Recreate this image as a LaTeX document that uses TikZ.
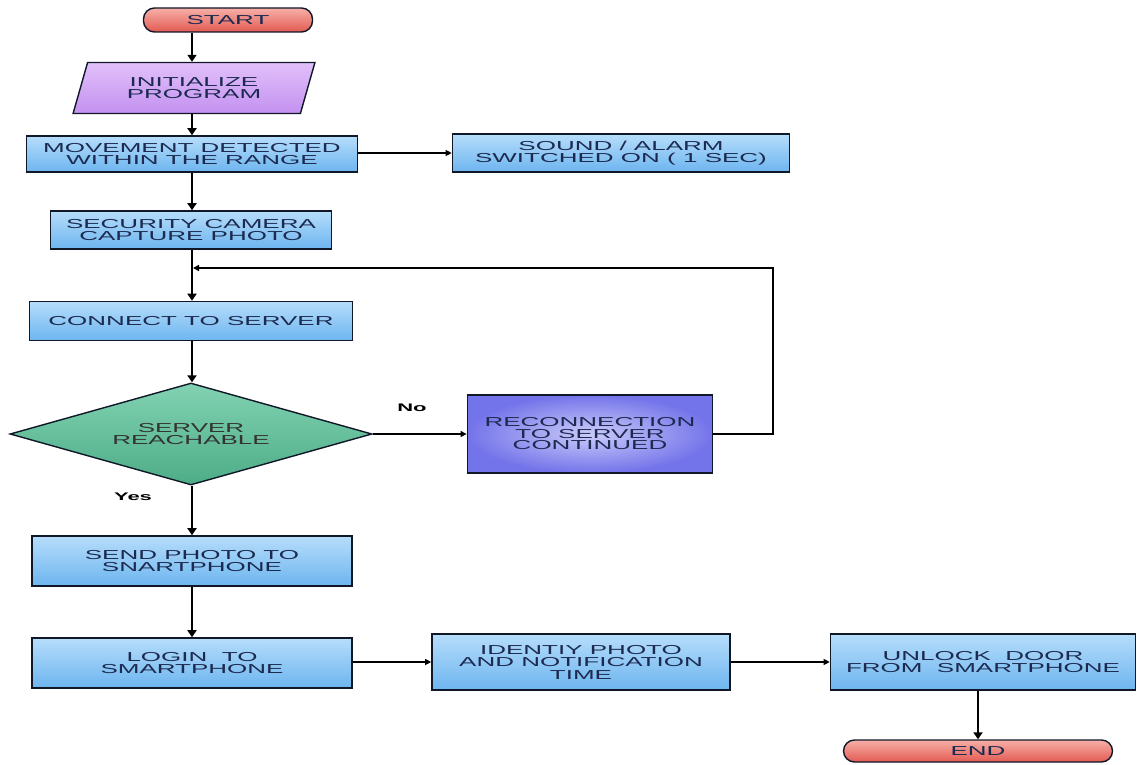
\documentclass[tikz,border=0pt]{standalone}
\usepackage{fontspec}
\setmainfont{Liberation Sans}[FakeStretch=2.0]
\usetikzlibrary{shapes.geometric,arrows.meta}
\definecolor{navy}{HTML}{1C2A50}
\definecolor{edge}{HTML}{101828}
\definecolor{bluetop}{HTML}{B6DDFB}
\definecolor{bluebot}{HTML}{6DB5EF}
\definecolor{purtop}{HTML}{E2C0FA}
\definecolor{purbot}{HTML}{C391F0}
\definecolor{grntop}{HTML}{82D2B2}
\definecolor{grnbot}{HTML}{4DAD87}
\definecolor{vtop}{HTML}{A8A8F7}
\definecolor{vbot}{HTML}{7474EA}
\definecolor{redtop}{HTML}{F7B0A8}
\definecolor{redbot}{HTML}{E25A52}
\begin{document}
\begin{tikzpicture}[x=1pt,y=-1pt,
  txt/.style={font=\fontsize{13}{12.5}\selectfont, text=navy, align=center, inner sep=0pt},
  box/.style={txt, rectangle, draw=edge, line width=1.6pt, top color=bluetop, bottom color=bluebot},
  pill/.style={txt, rectangle, rounded corners=11pt, draw=edge, line width=1.4pt, top color=redtop, bottom color=redbot},
  para/.style={txt, trapezium, trapezium left angle=67, trapezium right angle=113, trapezium stretches=true, draw=edge, line width=1.4pt, top color=purtop, bottom color=purbot},
  dia/.style={txt, diamond, aspect=3.55, draw=edge, line width=1.4pt, top color=grntop, bottom color=grnbot, text=black!80},
  vbox/.style={txt, rectangle, draw=edge, line width=1.8pt, inner color=vtop!60!white, outer color=vbot},
  thk/.style={line width=2.2pt, -{Triangle[width=9pt,length=7pt]}},
  thn/.style={line width=1.1pt, -{Triangle[width=6pt,length=6pt]}},
  lbl/.style={font=\bfseries\fontsize{11}{11}\selectfont, text=black, inner sep=0pt}
]
\useasboundingbox (0,0) rectangle (1140,765);
\fill[white] (0,0) rectangle (1140,765);
\coordinate (col) at (192,0);

\node[pill, minimum width=169pt, minimum height=24pt] (start) at (228,20) {START};
\node[para, minimum width=242pt, minimum height=51pt] (init) at (194,88) {INITIALIZE\\PROGRAM};
\node[box, minimum width=331pt, minimum height=36pt] (move) at (192,154) {MOVEMENT DETECTED\\WITHIN THE RANGE};
\node[box, minimum width=337pt, minimum height=38pt] (sound) at (621,153) {SOUND / ALARM\\SWITCHED ON ( 1 SEC)};
\node[box, minimum width=281pt, minimum height=38pt] (cam) at (191,230) {SECURITY CAMERA\\CAPTURE PHOTO};
\node[box, minimum width=323pt, minimum height=39pt] (conn) at (191,321) {CONNECT TO SERVER};
\node[dia, minimum width=362pt, minimum height=102pt] (dec) at (191,434) {SERVER\\REACHABLE};
\node[vbox, minimum width=245pt, minimum height=78pt, font=\fontsize{13}{11.5}\selectfont] (recon) at (590,434) {RECONNECTION\\TO SERVER\\CONTINUED};
\node[box, minimum width=320pt, minimum height=50pt] (send) at (192,561) {SEND PHOTO TO\\SNARTPHONE};
\node[box, minimum width=320pt, minimum height=50pt] (login) at (192,663) {LOGIN\ \ TO\\SMARTPHONE};
\node[box, minimum width=298pt, minimum height=56pt] (ident) at (581,662) {IDENTIY PHOTO\\AND NOTIFICATION\\TIME};
\node[box, minimum width=305pt, minimum height=56pt] (unlock) at (983,662) {UNLOCK\ \ DOOR\\FROM\ \ SMARTPHONE};
\node[pill, minimum width=269pt, minimum height=22pt] (end) at (978,751) {END};

\node[lbl] (no) at (412,408) {No};
\node[lbl] (yes) at (133,497) {Yes};

\coordinate (fb) at (773,268);
\coordinate (jn) at (193,268);

\draw[thk, line width=1.6pt] (start.south -| col) -- (init.north -| col);
\draw[thk] (init.south -| col) -- (move.north -| col);
\draw[thn] (move.east |- sound) -- (sound.west);
\draw[thk] (move.south -| col) -- (cam.north -| col);
\draw[thk] (cam.south -| col) -- (conn.north -| col);
\draw[thk] (conn.south -| col) -- (dec.north -| col);
\draw[thn] (dec.east) -- (recon.west);
\draw[thn, line width=1.4pt] (recon.east) -- (recon.east -| fb) -- (fb) -- (jn);
\draw[thk] (dec.south -| col) -- (send.north -| col);
\draw[thk] (send.south -| col) -- (login.north -| col);
\draw[thn] (login.east |- ident) -- (ident.west);
\draw[thn] (ident.east) -- (unlock.west);
\draw[thk] (unlock.south -| end) -- (end.north);
\end{tikzpicture}
\end{document}
